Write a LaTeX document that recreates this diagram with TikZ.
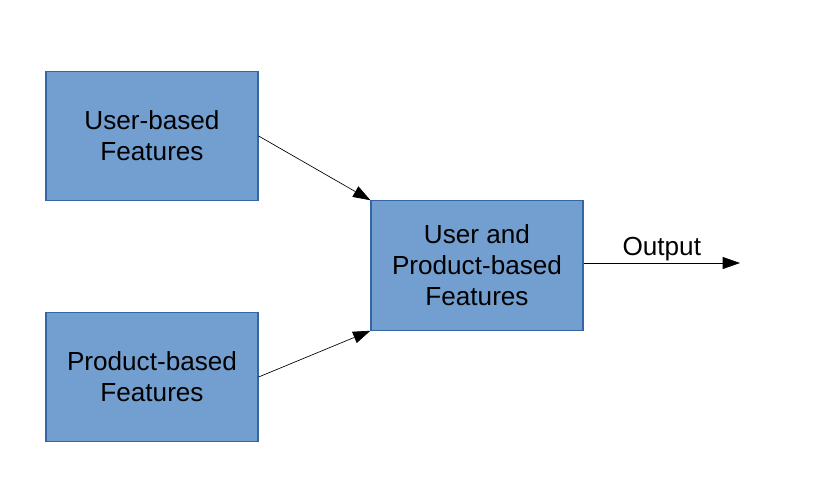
\documentclass[tikz,border=0pt]{standalone}
\usepackage{fontspec}
\setmainfont{Liberation Sans}
\usetikzlibrary{arrows.meta}

\tikzset{every picture/.style={line width=0.75pt}}
\definecolor{boxfill}{RGB}{114,159,207}
\definecolor{boxline}{RGB}{52,101,164}
\tikzset{
  featbox/.style={draw=boxline, fill=boxfill, line width=0.9pt, minimum width=159pt, minimum height=97pt, inner sep=0pt, align=center, font=\fontsize{19.6}{23.3}\selectfont},
  flow/.style={draw=black, line width=0.5pt, -{Triangle[length=13pt,width=9pt]}}
}

\begin{document}
\begin{tikzpicture}[x=0.75pt,y=0.75pt,yscale=-1,xscale=1]
\useasboundingbox (0,0) rectangle (816,491);

%Feature boxes
\node [featbox] (user) at (152,136) {User-based\\Features};
\node [featbox] (product) at (152,377) {Product-based\\Features};
\node [featbox] (combined) at (477,265.5) {User and\\Product-based\\Features};
\coordinate (out) at (740,263);

%Arrows
\draw [flow] (user.east) -- (combined.north west);
\draw [flow] (product.east) -- (combined.south west);
\draw [flow] (combined.east |- out) -- node [above, inner sep=1pt, font=\fontsize{19.6}{23.3}\selectfont] {Output} (out);

\end{tikzpicture}
\end{document}
